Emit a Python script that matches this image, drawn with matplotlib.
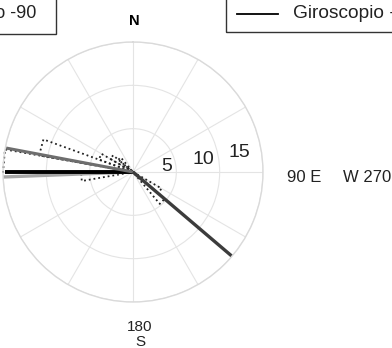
import numpy as np
import matplotlib.pyplot as plt
from matplotlib.patches import Rectangle
from matplotlib.lines import Line2D

plt.rcParams['font.family'] = ['Liberation Sans', 'DejaVu Sans']

# compass lines (bearing in degrees, clockwise from north) and length
line_bearing = [267.8, 270.0, 280.7, 130.4]
line_len = [15.0, 14.8, 14.9, 15.0]
line_color = ['#a6a6a6', '#000000', '#6e6e6e', '#3c3c3c']
line_width = [2.4, 2.8, 2.2, 2.4]

# rose histogram (dotted): bin start, bin end, count
rose_start = [260, 270, 280, 290, 300, 310, 120, 130]
rose_end = [270, 280, 290, 300, 310, 320, 130, 140]
rose_count = [6.0, 15.0, 11.0, 4.2, 3.0, 2.2, 3.8, 4.8]

ring_values = [5, 10, 15]

W, H = 392, 348
fig = plt.figure(figsize=(W / 100, H / 100), dpi=100)

cx, cy, R = 133, 172, 130
ax = fig.add_axes([(cx - R) / W, (H - cy - R) / H, 2 * R / W, 2 * R / H],
                  projection='polar')
ax.set_theta_zero_location('N')
ax.set_theta_direction(-1)
ax.set_ylim(0, 15)
ax.set_rgrids(ring_values, labels=[])
ax.set_thetagrids(np.arange(0, 360, 30), labels=[])
ax.grid(True, color='#e4e4e4', lw=0.8)
ax.spines['polar'].set_color('#dadada')
ax.spines['polar'].set_linewidth(1.0)
ax.tick_params(length=0)

# dotted rose outline
for a1, a2, c in zip(rose_start, rose_end, rose_count):
    th = np.radians([a1, a1, a2, a2])
    rr = [0, c, c, 0]
    ax.plot(th, rr, ls=':', color='#222222', lw=1.3, clip_on=False)

# compass lines from the origin
for b, L, col, lw in zip(line_bearing, line_len, line_color, line_width):
    ax.plot([0, np.radians(b)], [0, L], color=col, lw=lw,
            solid_capstyle='butt', clip_on=False)

# ring labels
for v, ang in zip(ring_values, [81.6, 79.6, 79.4]):
    ax.text(np.radians(ang), v * 0.83 if v > 5 else 3.97, str(v),
            fontsize=14, ha='center', va='center', color='#222222')


def px(x, y):
    return x / W, 1 - y / H


fig.text(*px(134, 21), 'N', fontsize=10.5, fontweight='bold', ha='center', va='center')
fig.text(*px(304, 177), '90 E', fontsize=12, ha='center', va='center', color='#222222')
fig.text(*px(343, 177), 'W 270', fontsize=12, ha='left', va='center', color='#222222')
fig.text(*px(140, 327), '180', fontsize=11, ha='center', va='center', color='#222222')
fig.text(*px(140, 342), 'S', fontsize=11, ha='center', va='center', color='#222222')

# left legend (cut off)
fig.patches.append(Rectangle(px(-200, 34), 256 / W, 60 / H, transform=fig.transFigure,
                             fill=False, ec='#333333', lw=1.0))
fig.text(*px(36, 13), 'Giroscopio -90', fontsize=13, ha='right', va='center', color='#222222')

# right legend (cut off)
fig.patches.append(Rectangle(px(226, 32), 300 / W, 60 / H, transform=fig.transFigure,
                             fill=False, ec='#333333', lw=1.0))
fig.lines.append(Line2D([237 / W, 278 / W], [1 - 14 / H, 1 - 14 / H],
                        transform=fig.transFigure, color='black', lw=1.3))
fig.text(*px(293, 13), 'Giroscopio -90', fontsize=13.8, ha='left', va='center', color='#222222')

fig.savefig('out.png', dpi=100)
